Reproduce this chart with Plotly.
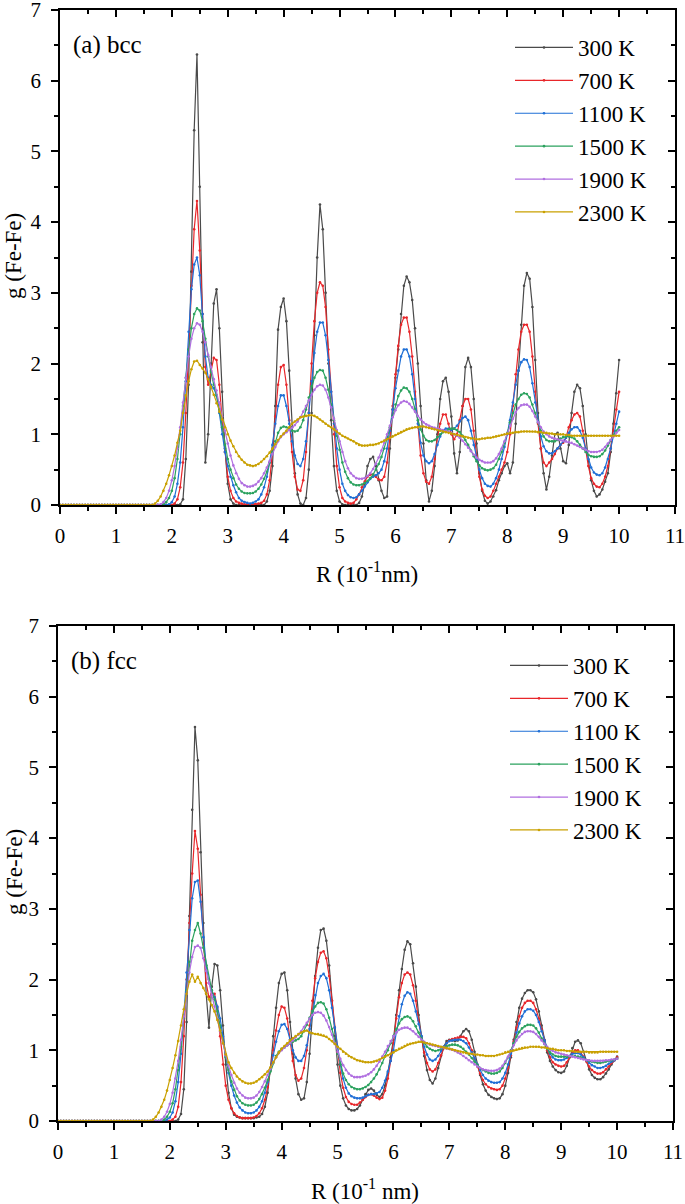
import numpy as np
import plotly.graph_objects as go

# ---------------- data ----------------
# R grid (10^-1 nm), 0.05 step; g(R) = 0 for R < 1.5 in every series
R_LEAD = [round(0.05 * i, 2) for i in range(30)]          # 0.00 .. 1.45
R_MAIN = [round(1.5 + 0.05 * i, 2) for i in range(171)]   # 1.50 .. 10.00
LEAD = [0.0] * len(R_LEAD)

temps = ["300 K", "700 K", "1100 K", "1500 K", "1900 K", "2300 K"]
colors = ["#4a4a4a", "#e8262a", "#1f6fd6", "#2ba25e", "#b06fe0", "#c9a000"]

# (a) bcc, values from R = 1.5 to 10.0
bcc_300 = [
    0, 0, 0, 0, 0, 0, 0, 0, 0, 0,
    0, 0, 0, 0.01, 0.08, 0.65, 1.7, 3.3, 5.3, 6.37,
    4.5, 2.3, 0.6, 1.0, 2.0, 2.85, 3.05, 2.5, 1.6, 0.8,
    0.3, 0.08, 0.02, 0, 0, 0, 0, 0, 0, 0,
    0, 0, 0, 0, 0.05, 0.2, 0.55, 1.4, 2.48, 2.8,
    2.92, 2.6, 1.9, 1.1, 0.45, 0.15, 0.02, 0, 0.1, 0.5,
    1.3, 2.4, 3.5, 4.25, 3.9, 3.0, 2.0, 1.2, 0.55, 0.2,
    0.05, 0.01, 0, 0, 0, 0, 0, 0.03, 0.12, 0.3,
    0.55, 0.65, 0.68, 0.55, 0.35, 0.2, 0.1, 0.12, 0.8, 1.35,
    1.8, 2.2, 2.7, 3.1, 3.23, 3.15, 2.9, 2.5, 2.0, 1.4,
    0.87, 0.35, 0.05, 0.2, 0.55, 1.0, 1.5, 1.75, 1.8, 1.6,
    1.25, 0.73, 0.45, 0.75, 1.4, 1.95, 2.08, 1.95, 1.5, 0.87,
    0.45, 0.2, 0.06, 0.02, 0.05, 0.12, 0.21, 0.35, 0.45, 0.55,
    0.59, 0.45, 0.6, 1.15, 1.9, 2.55, 3.1, 3.28, 3.2, 2.8,
    2.05, 1.3, 0.8, 0.45, 0.22, 0.4, 0.7, 1.0, 1.02, 0.8,
    0.62, 0.59, 0.85, 1.3, 1.6, 1.7, 1.65, 1.4, 1.0, 0.64,
    0.35, 0.2, 0.12, 0.15, 0.22, 0.33, 0.45, 0.75, 1.15, 1.58,
    2.05]
bcc_700 = [
    0, 0, 0, 0, 0, 0, 0, 0, 0, 0,
    0, 0.02, 0.08, 0.25, 0.6, 1.3, 2.2, 3.1, 3.9, 4.3,
    3.6, 2.7, 1.95, 1.7, 1.9, 2.08, 2.05, 1.7, 1.2, 0.75,
    0.4, 0.2, 0.1, 0.05, 0.03, 0.02, 0.01, 0.01, 0.01, 0.01,
    0.01, 0.02, 0.03, 0.06, 0.15, 0.35, 0.75, 1.25, 1.7, 1.95,
    1.98, 1.7, 1.2, 0.75, 0.4, 0.22, 0.2, 0.35, 0.75, 1.3,
    2.0, 2.6, 3.0, 3.15, 3.1, 2.8, 2.2, 1.6, 1.0, 0.55,
    0.25, 0.1, 0.05, 0.03, 0.02, 0.03, 0.08, 0.15, 0.25, 0.33,
    0.4, 0.43, 0.43, 0.4, 0.36, 0.35, 0.4, 0.6, 0.95, 1.4,
    1.85, 2.25, 2.55, 2.65, 2.65, 2.45, 2.1, 1.6, 1.1, 0.7,
    0.45, 0.33, 0.3, 0.4, 0.65, 0.95, 1.15, 1.28, 1.28, 1.15,
    1.0, 0.93, 1.0, 1.2, 1.4, 1.5, 1.5, 1.35, 1.05, 0.7,
    0.4, 0.22, 0.13, 0.1, 0.12, 0.2, 0.3, 0.4, 0.5, 0.6,
    0.75, 1.0, 1.4, 1.85, 2.2, 2.45, 2.55, 2.55, 2.45, 2.1,
    1.6, 1.15, 0.8, 0.6, 0.55, 0.6, 0.65, 0.72, 0.8, 0.85,
    0.88, 0.95, 1.1, 1.2, 1.28, 1.3, 1.25, 1.05, 0.8, 0.55,
    0.38, 0.3, 0.26, 0.25, 0.3, 0.4, 0.55, 0.8, 1.05, 1.35,
    1.6]
bcc_1100 = [
    0, 0, 0, 0, 0, 0, 0, 0, 0, 0.01,
    0.04, 0.12, 0.3, 0.6, 1.1, 1.75, 2.45, 3.05, 3.4, 3.5,
    3.25, 2.7, 2.1, 1.8, 1.7, 1.65, 1.55, 1.3, 1.0, 0.75,
    0.55, 0.4, 0.28, 0.18, 0.1, 0.06, 0.04, 0.03, 0.02, 0.03,
    0.05, 0.08, 0.15, 0.25, 0.4, 0.6, 0.85, 1.15, 1.4, 1.55,
    1.55, 1.4, 1.15, 0.9, 0.7, 0.58, 0.55, 0.65, 0.9, 1.3,
    1.75, 2.15, 2.45, 2.58, 2.58, 2.4, 2.05, 1.6, 1.15, 0.8,
    0.5, 0.3, 0.2, 0.14, 0.11, 0.1, 0.11, 0.15, 0.2, 0.26,
    0.32, 0.37, 0.4, 0.42, 0.45, 0.5, 0.62, 0.8, 1.05, 1.35,
    1.65, 1.9, 2.1, 2.2, 2.2, 2.1, 1.85, 1.5, 1.15, 0.88,
    0.7, 0.62, 0.59, 0.62, 0.72, 0.85, 0.97, 1.05, 1.08, 1.08,
    1.06, 1.08, 1.12, 1.18, 1.23, 1.25, 1.2, 1.05, 0.85, 0.65,
    0.5, 0.38, 0.3, 0.27, 0.26, 0.3, 0.38, 0.5, 0.65, 0.82,
    1.0, 1.2, 1.45, 1.7, 1.9, 2.02, 2.06, 2.05, 1.95, 1.72,
    1.45, 1.18, 0.97, 0.83, 0.76, 0.73, 0.73, 0.76, 0.8, 0.85,
    0.9, 0.95, 1.02, 1.07, 1.1, 1.1, 1.05, 0.95, 0.8, 0.65,
    0.53, 0.46, 0.43, 0.42, 0.45, 0.53, 0.65, 0.8, 0.98, 1.15,
    1.32]
bcc_1500 = [
    0, 0, 0, 0, 0, 0, 0, 0.01, 0.04, 0.1,
    0.2, 0.38, 0.65, 1.0, 1.4, 1.8, 2.2, 2.5, 2.7, 2.78,
    2.75, 2.6, 2.35, 2.1, 1.88, 1.7, 1.55, 1.35, 1.1, 0.85,
    0.65, 0.5, 0.38, 0.29, 0.23, 0.19, 0.17, 0.165, 0.165, 0.17,
    0.19, 0.23, 0.29, 0.37, 0.47, 0.6, 0.75, 0.9, 1.02, 1.09,
    1.11, 1.1, 1.08, 1.05, 1.04, 1.05, 1.1, 1.2, 1.35, 1.52,
    1.68, 1.8, 1.88, 1.91, 1.9, 1.8, 1.63, 1.42, 1.2, 0.98,
    0.78, 0.6, 0.47, 0.38, 0.32, 0.29, 0.28, 0.28, 0.29, 0.31,
    0.34, 0.38, 0.43, 0.5, 0.58, 0.68, 0.8, 0.94, 1.1, 1.26,
    1.42, 1.54, 1.62, 1.66, 1.65, 1.6, 1.5, 1.36, 1.2, 1.07,
    0.98, 0.92, 0.9, 0.9, 0.92, 0.96, 1.0, 1.03, 1.05, 1.07,
    1.08, 1.08, 1.06, 1.03, 0.98, 0.92, 0.85, 0.77, 0.69, 0.62,
    0.56, 0.52, 0.5, 0.49, 0.5, 0.52, 0.57, 0.65, 0.75, 0.88,
    1.02, 1.17, 1.3, 1.42, 1.5, 1.56, 1.58, 1.57, 1.52, 1.42,
    1.3, 1.17, 1.05, 0.97, 0.92, 0.9, 0.9, 0.9, 0.92, 0.94,
    0.96, 0.97, 0.97, 0.96, 0.94, 0.9, 0.85, 0.8, 0.75, 0.71,
    0.69, 0.68, 0.68, 0.69, 0.72, 0.77, 0.84, 0.92, 0.99, 1.05,
    1.1]
bcc_1900 = [
    0, 0, 0, 0, 0, 0, 0.01, 0.04, 0.1, 0.2,
    0.35, 0.55, 0.8, 1.1, 1.45, 1.8, 2.1, 2.35, 2.5, 2.57,
    2.55, 2.45, 2.3, 2.12, 1.95, 1.78, 1.62, 1.45, 1.25, 1.05,
    0.87, 0.7, 0.56, 0.45, 0.37, 0.31, 0.28, 0.26, 0.26, 0.27,
    0.29, 0.33, 0.38, 0.45, 0.53, 0.62, 0.72, 0.82, 0.9, 0.96,
    1.0, 1.03, 1.06, 1.09, 1.13, 1.18, 1.24, 1.32, 1.4, 1.48,
    1.56, 1.63, 1.68, 1.7, 1.69, 1.63, 1.52, 1.38, 1.22, 1.06,
    0.9, 0.75, 0.62, 0.52, 0.45, 0.41, 0.38, 0.37, 0.37, 0.38,
    0.41, 0.45, 0.51, 0.58, 0.67, 0.77, 0.88, 1.0, 1.12, 1.24,
    1.34, 1.41, 1.45, 1.47, 1.46, 1.43, 1.38, 1.32, 1.26, 1.21,
    1.17, 1.14, 1.12, 1.1, 1.09, 1.08, 1.07, 1.06, 1.05, 1.04,
    1.02, 1.0, 0.98, 0.95, 0.91, 0.86, 0.81, 0.76, 0.71, 0.67,
    0.64, 0.62, 0.6, 0.6, 0.6, 0.62, 0.66, 0.72, 0.8, 0.9,
    1.01, 1.12, 1.22, 1.31, 1.37, 1.41, 1.42, 1.42, 1.39, 1.33,
    1.25, 1.17, 1.1, 1.04, 1.0, 0.97, 0.95, 0.94, 0.93, 0.92,
    0.91, 0.9, 0.89, 0.88, 0.86, 0.84, 0.82, 0.8, 0.78, 0.76,
    0.75, 0.75, 0.75, 0.76, 0.78, 0.82, 0.87, 0.92, 0.97, 1.02,
    1.06]
bcc_2300 = [
    0, 0, 0, 0, 0.02, 0.06, 0.12, 0.2, 0.3, 0.42,
    0.55, 0.7, 0.88, 1.05, 1.3, 1.55, 1.75, 1.92, 2.03, 2.04,
    1.98, 1.93, 1.87, 1.78, 1.67, 1.56, 1.44, 1.32, 1.21, 1.1,
    1.0, 0.91, 0.83, 0.75, 0.69, 0.64, 0.6, 0.57, 0.56, 0.55,
    0.56, 0.58, 0.61, 0.65, 0.69, 0.74, 0.8, 0.86, 0.92, 0.97,
    1.01, 1.05, 1.1, 1.15, 1.18, 1.21, 1.24, 1.25, 1.26, 1.27,
    1.27, 1.26, 1.24, 1.21, 1.18, 1.15, 1.12, 1.1, 1.07, 1.04,
    1.01, 0.98, 0.96, 0.94, 0.92, 0.9, 0.87, 0.85, 0.84, 0.84,
    0.84, 0.85, 0.85, 0.86, 0.87, 0.89, 0.91, 0.93, 0.95, 0.97,
    0.99, 1.01, 1.03, 1.05, 1.07, 1.08, 1.09, 1.1, 1.1, 1.11,
    1.11, 1.1, 1.09, 1.08, 1.07, 1.06, 1.05, 1.04, 1.03, 1.02,
    1.01, 1.0, 0.99, 0.98, 0.97, 0.96, 0.95, 0.94, 0.94, 0.93,
    0.93, 0.94, 0.94, 0.95, 0.95, 0.96, 0.97, 0.98, 0.99, 1.0,
    1.01, 1.02, 1.02, 1.03, 1.03, 1.04, 1.04, 1.04, 1.04, 1.04,
    1.04, 1.03, 1.03, 1.02, 1.02, 1.01, 1.01, 1.0, 1.0, 1.0,
    1.0, 0.99, 0.99, 0.98, 0.98, 0.98, 0.98, 0.98, 0.98, 0.98,
    0.98, 0.98, 0.98, 0.98, 0.98, 0.98, 0.98, 0.98, 0.98, 0.98,
    0.98]

# (b) fcc, values from R = 1.5 to 10.0
fcc_300 = [
    0, 0, 0, 0, 0, 0, 0, 0, 0, 0,
    0, 0, 0, 0.02, 0.1, 0.45, 1.4, 2.9, 4.4, 5.57,
    5.1, 3.8, 2.8, 1.8, 1.32, 1.9, 2.22, 2.2, 1.85, 1.35,
    0.8, 0.4, 0.18, 0.09, 0.06, 0.05, 0.04, 0.04, 0.04, 0.04,
    0.04, 0.05, 0.06, 0.1, 0.2, 0.4, 0.75, 1.2, 1.6, 1.95,
    2.08, 2.1, 1.85, 1.4, 0.95, 0.6, 0.38, 0.3, 0.32, 0.55,
    0.95, 1.5, 2.05, 2.45, 2.7, 2.72, 2.55, 2.2, 1.7, 1.2,
    0.8, 0.5, 0.32, 0.22, 0.17, 0.15, 0.15, 0.17, 0.22, 0.3,
    0.38, 0.44, 0.46, 0.43, 0.37, 0.34, 0.38, 0.5, 0.68, 0.9,
    1.15, 1.5, 1.85, 2.15, 2.42, 2.54, 2.5, 2.23, 1.9, 1.5,
    1.2, 0.92, 0.72, 0.58, 0.53, 0.6, 0.75, 0.92, 1.05, 1.13,
    1.15, 1.14, 1.13, 1.14, 1.2, 1.27, 1.3, 1.27, 1.15, 0.98,
    0.8, 0.65, 0.52, 0.43, 0.37, 0.34, 0.32, 0.31, 0.32, 0.38,
    0.5, 0.68, 0.9, 1.15, 1.4, 1.6, 1.73, 1.81, 1.85, 1.85,
    1.82, 1.72, 1.55, 1.35, 1.15, 0.97, 0.85, 0.77, 0.72, 0.69,
    0.68, 0.7, 0.78, 0.9, 1.03, 1.12, 1.14, 1.1, 0.98, 0.85,
    0.73, 0.65, 0.61, 0.59, 0.59, 0.62, 0.67, 0.73, 0.8, 0.86,
    0.91]
fcc_700 = [
    0, 0, 0, 0, 0, 0, 0, 0, 0, 0,
    0, 0.02, 0.06, 0.2, 0.55, 1.2, 2.0, 2.8, 3.5, 4.1,
    3.85, 3.2, 2.5, 1.95, 1.75, 1.8, 1.8, 1.6, 1.2, 0.8,
    0.5, 0.3, 0.18, 0.11, 0.07, 0.05, 0.04, 0.04, 0.04, 0.04,
    0.05, 0.07, 0.11, 0.18, 0.3, 0.48, 0.72, 1.0, 1.28, 1.5,
    1.62, 1.6, 1.45, 1.15, 0.85, 0.65, 0.57, 0.6, 0.75, 1.0,
    1.35, 1.7, 2.02, 2.25, 2.38, 2.4, 2.3, 2.05, 1.7, 1.32,
    0.97, 0.68, 0.47, 0.34, 0.27, 0.24, 0.23, 0.23, 0.26, 0.3,
    0.34, 0.37, 0.38, 0.36, 0.33, 0.31, 0.33, 0.43, 0.6, 0.85,
    1.1, 1.45, 1.75, 1.95, 2.07, 2.1, 2.07, 1.92, 1.7, 1.42,
    1.17, 0.97, 0.82, 0.73, 0.7, 0.73, 0.82, 0.93, 1.03, 1.1,
    1.14, 1.16, 1.17, 1.18, 1.19, 1.19, 1.17, 1.1, 1.0, 0.88,
    0.77, 0.67, 0.58, 0.52, 0.48, 0.46, 0.45, 0.44, 0.45, 0.5,
    0.6, 0.75, 0.93, 1.12, 1.32, 1.48, 1.6, 1.67, 1.7, 1.7,
    1.67, 1.58, 1.45, 1.3, 1.14, 1.0, 0.9, 0.83, 0.8, 0.78,
    0.77, 0.78, 0.83, 0.9, 0.96, 1.0, 1.0, 0.97, 0.91, 0.84,
    0.77, 0.72, 0.69, 0.67, 0.67, 0.69, 0.73, 0.77, 0.82, 0.86,
    0.9]
fcc_1100 = [
    0, 0, 0, 0, 0, 0, 0, 0, 0, 0.02,
    0.05, 0.12, 0.28, 0.55, 0.95, 1.5, 2.1, 2.7, 3.15, 3.38,
    3.4, 3.1, 2.6, 2.2, 1.95, 1.85, 1.75, 1.62, 1.45, 1.2,
    0.92, 0.68, 0.5, 0.36, 0.26, 0.19, 0.15, 0.12, 0.11, 0.11,
    0.12, 0.15, 0.2, 0.28, 0.4, 0.55, 0.73, 0.93, 1.12, 1.27,
    1.36, 1.37, 1.3, 1.15, 1.0, 0.9, 0.85, 0.85, 0.92, 1.07,
    1.3, 1.55, 1.78, 1.95, 2.05, 2.08, 2.02, 1.85, 1.6, 1.32,
    1.05, 0.8, 0.6, 0.47, 0.39, 0.35, 0.33, 0.32, 0.32, 0.33,
    0.35, 0.37, 0.38, 0.38, 0.39, 0.41, 0.47, 0.57, 0.7, 0.85,
    1.0, 1.25, 1.48, 1.65, 1.77, 1.82, 1.8, 1.7, 1.55, 1.37,
    1.2, 1.05, 0.94, 0.87, 0.85, 0.87, 0.92, 0.99, 1.05, 1.1,
    1.13, 1.14, 1.15, 1.15, 1.15, 1.13, 1.1, 1.04, 0.97, 0.89,
    0.8, 0.72, 0.65, 0.6, 0.57, 0.55, 0.54, 0.54, 0.55, 0.6,
    0.68, 0.8, 0.95, 1.1, 1.25, 1.38, 1.48, 1.55, 1.58, 1.58,
    1.56, 1.5, 1.4, 1.27, 1.14, 1.03, 0.95, 0.9, 0.87, 0.86,
    0.86, 0.87, 0.89, 0.92, 0.95, 0.96, 0.96, 0.94, 0.9, 0.86,
    0.82, 0.79, 0.77, 0.75, 0.75, 0.76, 0.78, 0.81, 0.84, 0.86,
    0.88]
fcc_1500 = [
    0, 0, 0, 0, 0, 0, 0, 0, 0.02, 0.06,
    0.13, 0.25, 0.45, 0.72, 1.05, 1.45, 1.85, 2.25, 2.55, 2.7,
    2.8, 2.65, 2.45, 2.2, 2.0, 1.85, 1.72, 1.55, 1.35, 1.12,
    0.9, 0.72, 0.56, 0.44, 0.35, 0.29, 0.25, 0.23, 0.22, 0.22,
    0.23, 0.26, 0.31, 0.38, 0.47, 0.58, 0.7, 0.82, 0.92, 0.98,
    1.02, 1.04, 1.07, 1.1, 1.12, 1.14, 1.16, 1.2, 1.27, 1.36,
    1.46, 1.55, 1.62, 1.67, 1.68, 1.66, 1.58, 1.46, 1.3, 1.12,
    0.95, 0.8, 0.67, 0.58, 0.52, 0.48, 0.46, 0.45, 0.45, 0.46,
    0.48, 0.51, 0.55, 0.6, 0.66, 0.73, 0.82, 0.92, 1.0, 1.1,
    1.2, 1.3, 1.38, 1.44, 1.47, 1.48, 1.46, 1.41, 1.34, 1.25,
    1.17, 1.1, 1.05, 1.02, 1.0, 0.99, 1.0, 1.02, 1.04, 1.06,
    1.07, 1.08, 1.08, 1.07, 1.05, 1.02, 0.98, 0.94, 0.89, 0.84,
    0.79, 0.75, 0.72, 0.7, 0.68, 0.67, 0.67, 0.68, 0.7, 0.75,
    0.82, 0.9, 1.0, 1.1, 1.19, 1.26, 1.31, 1.34, 1.36, 1.36,
    1.35, 1.31, 1.25, 1.17, 1.09, 1.02, 0.97, 0.94, 0.92, 0.91,
    0.91, 0.91, 0.91, 0.92, 0.92, 0.92, 0.91, 0.9, 0.88, 0.86,
    0.85, 0.84, 0.83, 0.82, 0.82, 0.83, 0.84, 0.85, 0.86, 0.87,
    0.88]
fcc_1900 = [
    0, 0, 0, 0, 0, 0, 0, 0.02, 0.06, 0.13,
    0.24, 0.4, 0.6, 0.85, 1.15, 1.48, 1.8, 2.1, 2.32, 2.46,
    2.48, 2.45, 2.3, 2.12, 1.95, 1.78, 1.62, 1.45, 1.27, 1.1,
    0.93, 0.78, 0.65, 0.54, 0.46, 0.4, 0.36, 0.33, 0.32, 0.32,
    0.33, 0.36, 0.41, 0.48, 0.56, 0.65, 0.74, 0.83, 0.9, 0.96,
    1.0, 1.04, 1.07, 1.1, 1.14, 1.18, 1.22, 1.27, 1.33, 1.39,
    1.45, 1.5, 1.53, 1.54, 1.53, 1.49, 1.42, 1.33, 1.22, 1.1,
    0.98, 0.88, 0.79, 0.72, 0.67, 0.64, 0.62, 0.62, 0.62, 0.63,
    0.64, 0.66, 0.69, 0.73, 0.78, 0.84, 0.91, 0.98, 1.06, 1.13,
    1.2, 1.25, 1.29, 1.31, 1.32, 1.32, 1.3, 1.27, 1.23, 1.19,
    1.15, 1.12, 1.1, 1.08, 1.07, 1.06, 1.05, 1.04, 1.04, 1.03,
    1.02, 1.01, 0.99, 0.97, 0.95, 0.92, 0.89, 0.86, 0.83, 0.8,
    0.77, 0.75, 0.73, 0.72, 0.71, 0.71, 0.71, 0.72, 0.74, 0.78,
    0.84, 0.91, 0.99, 1.07, 1.14, 1.19, 1.23, 1.26, 1.27, 1.27,
    1.26, 1.23, 1.19, 1.14, 1.09, 1.05, 1.01, 0.99, 0.97, 0.96,
    0.95, 0.94, 0.93, 0.92, 0.91, 0.9, 0.89, 0.88, 0.87, 0.86,
    0.86, 0.85, 0.85, 0.85, 0.85, 0.85, 0.86, 0.86, 0.87, 0.87,
    0.88]
fcc_2300 = [
    0, 0, 0, 0, 0.02, 0.06, 0.12, 0.2, 0.3, 0.43,
    0.58, 0.75, 0.93, 1.13, 1.35, 1.58, 1.8, 1.97, 2.07, 1.97,
    2.04, 1.95, 1.88, 1.8, 1.72, 1.64, 1.55, 1.43, 1.28, 1.1,
    0.94, 0.83, 0.75, 0.68, 0.63, 0.59, 0.56, 0.54, 0.53, 0.53,
    0.54, 0.56, 0.59, 0.62, 0.66, 0.7, 0.76, 0.83, 0.9, 0.97,
    1.02, 1.06, 1.1, 1.14, 1.17, 1.2, 1.23, 1.25, 1.27, 1.28,
    1.25, 1.24, 1.23, 1.23, 1.22, 1.21, 1.19, 1.16, 1.13, 1.09,
    1.05, 1.02, 0.98, 0.95, 0.92, 0.9, 0.88, 0.86, 0.85, 0.84,
    0.83, 0.83, 0.83, 0.84, 0.85, 0.87, 0.89, 0.91, 0.93, 0.95,
    0.97, 1.0, 1.02, 1.04, 1.06, 1.08, 1.09, 1.1, 1.11, 1.12,
    1.12, 1.11, 1.1, 1.09, 1.08, 1.07, 1.06, 1.05, 1.04, 1.03,
    1.02, 1.01, 1.0, 0.99, 0.98, 0.97, 0.96, 0.95, 0.95, 0.94,
    0.94, 0.93, 0.93, 0.92, 0.92, 0.92, 0.92, 0.93, 0.94, 0.95,
    0.97, 0.98, 0.99, 1.0, 1.01, 1.02, 1.03, 1.04, 1.04, 1.05,
    1.05, 1.05, 1.05, 1.04, 1.04, 1.03, 1.02, 1.02, 1.01, 1.0,
    1.0, 1.0, 0.99, 0.99, 0.99, 0.98, 0.98, 0.98, 0.98, 0.98,
    0.97, 0.97, 0.97, 0.97, 0.98, 0.98, 0.98, 0.98, 0.98, 0.98,
    0.98]

bcc_series = [bcc_300, bcc_700, bcc_1100, bcc_1500, bcc_1900, bcc_2300]
fcc_series = [fcc_300, fcc_700, fcc_1100, fcc_1500, fcc_1900, fcc_2300]

x_ticks = list(range(0, 12))
y_ticks = list(range(0, 8))

# ---------------- figure ----------------
W, H = 685, 1204
SERIF = "Liberation Serif"
R_ALL = R_LEAD + R_MAIN

fig = go.Figure()

for name, col, vals in zip(temps, colors, bcc_series):
    fig.add_trace(go.Scatter(
        x=R_ALL, y=LEAD + vals, name=name, mode="lines+markers",
        line=dict(color=col, width=1.2), marker=dict(color=col, size=2.6),
        xaxis="x", yaxis="y", legend="legend", cliponaxis=False))

for name, col, vals in zip(temps, colors, fcc_series):
    fig.add_trace(go.Scatter(
        x=R_ALL, y=LEAD + vals, name=name, mode="lines+markers",
        line=dict(color=col, width=1.2), marker=dict(color=col, size=2.6),
        xaxis="x2", yaxis="y2", legend="legend2", cliponaxis=False))

# empty traces so the mirrored (inside-tick) axes get drawn
for xa, ya in (("x3", "y3"), ("x4", "y4")):
    fig.add_trace(go.Scatter(x=[None], y=[None], xaxis=xa, yaxis=ya,
                             showlegend=False, hoverinfo="skip"))


def px_x(p):
    return p / W


def px_y(p):
    return (H - p) / H


top_xdom = [px_x(60), px_x(675)]
bot_xdom = [px_x(58), px_x(673)]
top_ydom = [px_y(505), px_y(10)]
bot_ydom = [px_y(1121), px_y(626)]

tickfont = dict(family=SERIF, size=21, color="black")


def main_x(dom, anchor):
    return dict(domain=dom, anchor=anchor, range=[0, 11], tickmode="array",
                tickvals=x_ticks, ticktext=[str(v) for v in x_ticks],
                ticks="outside", ticklen=7, tickwidth=1.5, tickcolor="black",
                minor=dict(ticks="outside", ticklen=4, tickwidth=1.5,
                           tickcolor="black", dtick=0.5, tick0=0),
                showline=True, linewidth=1.5, linecolor="black", mirror=True,
                showgrid=False, zeroline=False, tickfont=tickfont,
                ticklabelstandoff=4, ticklabeloverflow="allow")


def main_y(dom, anchor):
    return dict(domain=dom, anchor=anchor, range=[0, 7], tickmode="array",
                tickvals=y_ticks, ticktext=[str(v) for v in y_ticks],
                ticks="outside", ticklen=7, tickwidth=1.5, tickcolor="black",
                minor=dict(ticks="outside", ticklen=4, tickwidth=1.5,
                           tickcolor="black", dtick=0.5, tick0=0),
                showline=True, linewidth=1.5, linecolor="black", mirror=True,
                showgrid=False, zeroline=False, tickfont=tickfont,
                ticklabelstandoff=6, ticklabeloverflow="allow")


def mirror_x(over, anchor):
    return dict(overlaying=over, anchor=anchor, side="top", range=[0, 11],
                tickmode="array", tickvals=x_ticks, ticks="inside", ticklen=7,
                tickwidth=1.5, tickcolor="black",
                minor=dict(ticks="inside", ticklen=4, tickwidth=1.5,
                           tickcolor="black", dtick=0.5, tick0=0),
                showticklabels=False, showline=False, showgrid=False,
                zeroline=False)


def mirror_y(over, anchor):
    return dict(overlaying=over, anchor=anchor, side="right", range=[0, 7],
                tickmode="array", tickvals=y_ticks, ticks="inside", ticklen=7,
                tickwidth=1.5, tickcolor="black",
                minor=dict(ticks="inside", ticklen=4, tickwidth=1.5,
                           tickcolor="black", dtick=0.5, tick0=0),
                showticklabels=False, showline=False, showgrid=False,
                zeroline=False)


legend_common = dict(xanchor="left", yanchor="top", bgcolor="rgba(0,0,0,0)",
                     font=dict(family=SERIF, size=23, color="black"),
                     itemwidth=58, tracegroupgap=0, traceorder="normal")

fig.update_layout(
    width=W, height=H,
    margin=dict(l=0, r=0, t=0, b=0, autoexpand=False),
    paper_bgcolor="white", plot_bgcolor="white",
    font=dict(family=SERIF, color="black"),
    xaxis=main_x(top_xdom, "y"),
    yaxis=main_y(top_ydom, "x"),
    xaxis2=main_x(bot_xdom, "y2"),
    yaxis2=main_y(bot_ydom, "x2"),
    xaxis3=mirror_x("x", "y"),
    yaxis3=mirror_y("y", "x"),
    xaxis4=mirror_x("x2", "y2"),
    yaxis4=mirror_y("y2", "x2"),
    legend=dict(x=px_x(510), y=px_y(26), **legend_common),
    legend2=dict(x=px_x(505), y=px_y(644), **legend_common),
    showlegend=True,
)

ann_font = dict(family=SERIF, size=23, color="black")
annotations = [
    dict(text="(a) bcc", x=px_x(71), y=px_y(45), xref="paper", yref="paper",
         xanchor="left", yanchor="middle", showarrow=False,
         font=dict(family=SERIF, size=25, color="black")),
    dict(text="(b) fcc", x=px_x(69), y=px_y(661), xref="paper", yref="paper",
         xanchor="left", yanchor="middle", showarrow=False,
         font=dict(family=SERIF, size=25, color="black")),
    dict(text="g (Fe-Fe)", x=px_x(14), y=px_y(256), xref="paper", yref="paper",
         xanchor="center", yanchor="middle", textangle=-90, showarrow=False,
         font=ann_font),
    dict(text="g (Fe-Fe)", x=px_x(14), y=px_y(872), xref="paper", yref="paper",
         xanchor="center", yanchor="middle", textangle=-90, showarrow=False,
         font=ann_font),
    dict(text="R (10<sup>-1</sup>nm)", x=px_x(367), y=px_y(572), xref="paper",
         yref="paper", xanchor="center", yanchor="middle", showarrow=False,
         font=ann_font),
    dict(text="R (10<sup>-1</sup> nm)", x=px_x(365), y=px_y(1189), xref="paper",
         yref="paper", xanchor="center", yanchor="middle", showarrow=False,
         font=ann_font),
]
fig.update_layout(annotations=annotations)

fig.write_html("out.html", config={"displayModeBar": False},
               post_script="document.body.style.margin='0';document.body.style.overflow='hidden';")
